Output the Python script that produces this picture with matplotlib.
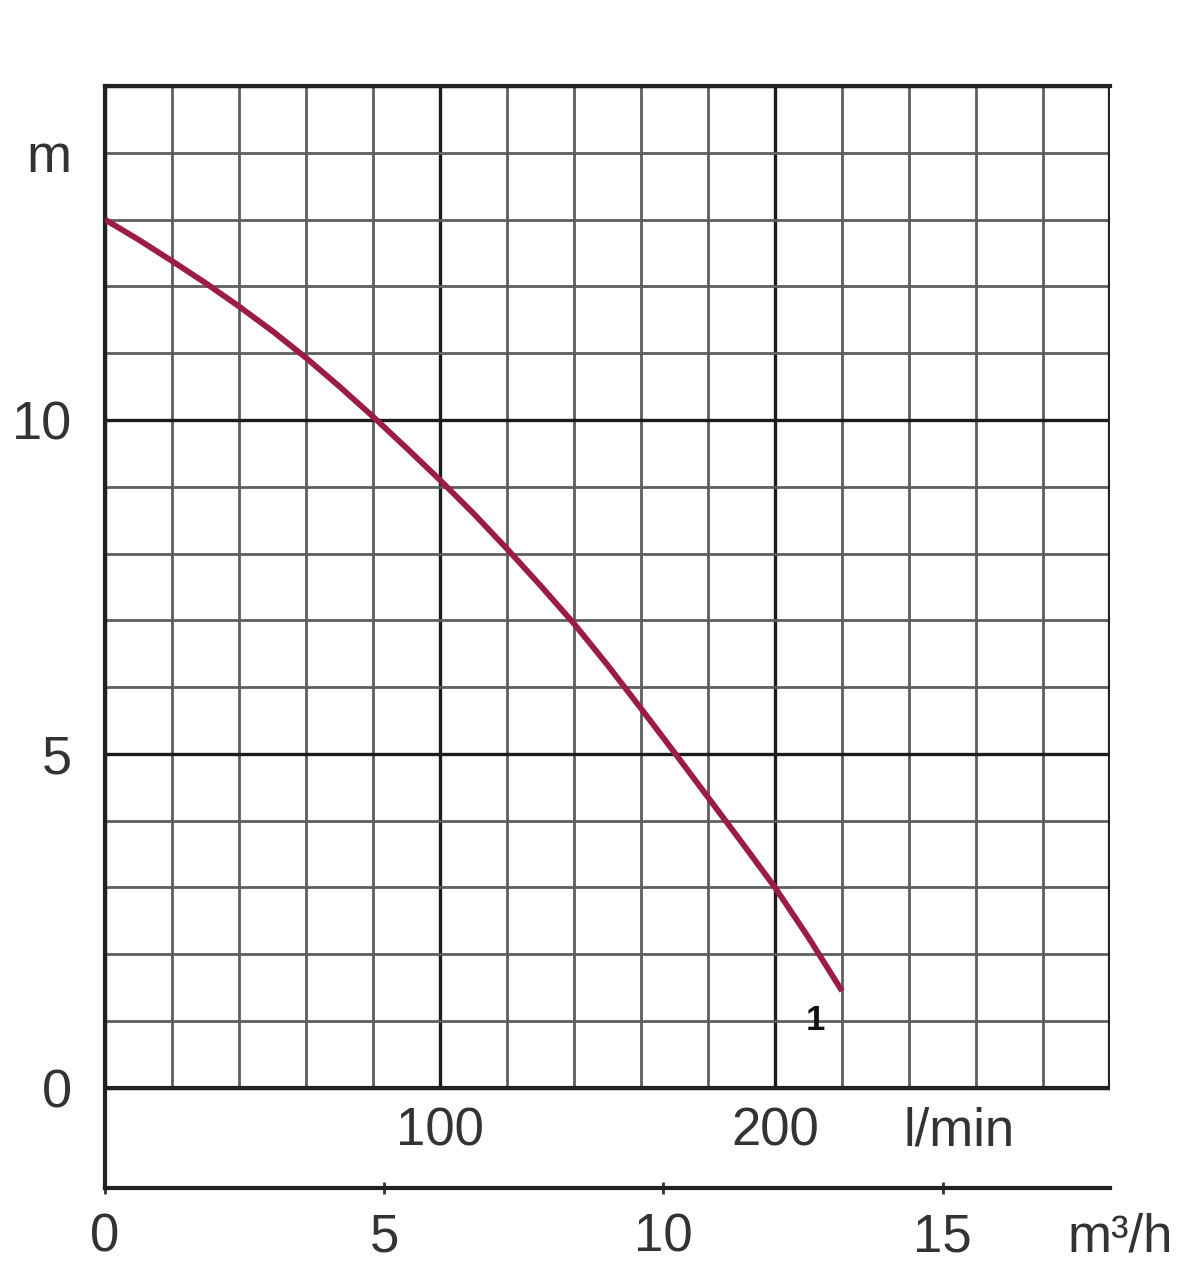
import matplotlib
matplotlib.use("Agg")
import matplotlib.pyplot as plt

# ---- data ----
flow_lpm = [0, 10, 20, 30, 40, 50, 60, 70, 80, 90, 100, 110, 120, 130, 140,
            150, 160, 170, 180, 190, 200, 210, 220]
head_m = [13.0, 12.7, 12.38, 12.05, 11.7, 11.33, 10.93, 10.5, 10.05, 9.58, 9.1,
          8.6, 8.07, 7.52, 6.95, 6.33, 5.68, 5.02, 4.35, 3.68, 3.0, 2.25, 1.45]
curve_label = "1"

y_ticks = [0, 5, 10, 14]
y_tick_labels = ["0", "5", "10", "m"]
lpm_ticks = [100, 200]
lpm_tick_labels = ["100", "200"]
lpm_unit = "l/min"
m3h_ticks = [0, 5, 10, 15]
m3h_tick_labels = ["0", "5", "10", "15"]
m3h_unit = "m³/h"

x_max = 300
y_max = 15
y_min = -1.5
minor_x_step = 20
minor_y_step = 1

plt.rcParams['font.family'] = ['Liberation Sans', 'DejaVu Sans']

fig = plt.figure(figsize=(12, 12.77), dpi=100)
W, H = 1200, 1277
left, right, top, bottom = 105, 1110, 86, 1188
ax = fig.add_axes([left / W, 1 - bottom / H, (right - left) / W, (bottom - top) / H])
ax.set_xlim(0, x_max)
ax.set_ylim(y_min, y_max)

minor_col = '#5e5e5e'
major_col = '#1c1c1c'
text_col = '#333333'

# grid (only within the upper panel)
for xv in range(0, x_max + 1, minor_x_step):
    is_major = xv % 100 == 0
    ax.vlines(xv, 0, y_max, colors=major_col if is_major else minor_col,
              linewidth=2.4 if is_major else 2.0, zorder=1)
for yv in range(0, y_max + 1, minor_y_step):
    is_major = yv % 5 == 0
    ax.hlines(yv, 0, x_max, colors=major_col if is_major else minor_col,
              linewidth=2.4 if is_major else 2.0, zorder=1)
# right border and zero line of upper panel
ax.vlines(x_max, 0, y_max, colors='#222222', linewidth=3.0, zorder=2)
ax.hlines(0, 0, x_max, colors='#222222', linewidth=3.0, zorder=2)

ax.spines['right'].set_visible(False)
for side in ['left', 'top', 'bottom']:
    ax.spines[side].set_linewidth(3.0)
    ax.spines[side].set_color('#222222')

# curve
ax.plot(flow_lpm, head_m, color='#9c1c48', linewidth=4.2, solid_capstyle='butt',
        solid_joinstyle='round', zorder=3)
ax.text(flow_lpm[-1] - 8, head_m[-1] - 0.2, curve_label, ha='center', va='top',
        fontsize=25, fontweight='bold', color='#111111', zorder=4)

# y axis labels
ax.set_yticks(y_ticks)
ax.set_yticklabels(y_tick_labels)
ax.tick_params(axis='y', length=0, pad=24, labelsize=39, labelcolor=text_col)

# primary x: no ticks; l/min labels placed inside lower strip
ax.set_xticks([])
for xv, lab in zip(lpm_ticks, lpm_tick_labels):
    ax.text(xv, -0.65, lab, ha='center', va='center', fontsize=38, color=text_col)
ax.text(255, -0.65, lpm_unit, ha='center', va='center', fontsize=38, color=text_col)

# secondary x axis in m3/h
sec = ax.secondary_xaxis('bottom', functions=(lambda x: x * 60 / 1000, lambda v: v * 1000 / 60))
sec.set_xticks(m3h_ticks)
sec.set_xticklabels(m3h_tick_labels)
sec.tick_params(axis='x', direction='inout', length=8, width=2, color='#333333',
                pad=14, labelsize=38, labelcolor=text_col)
sec.spines['bottom'].set_visible(False)
fig.text(1120 / W, 1 - 1237 / H, m3h_unit, ha='center', va='center',
         fontsize=38, color=text_col)

fig.savefig('out.png', dpi=100, facecolor='white')
